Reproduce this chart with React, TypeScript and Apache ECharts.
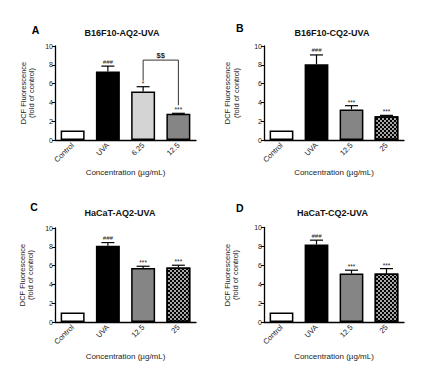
import React, { useEffect, useRef } from 'react';
import * as echarts from 'echarts';

const FONT = '"Liberation Sans", Arial, Helvetica, sans-serif';

const titles = ['B16F10-AQ2-UVA', 'B16F10-CQ2-UVA', 'HaCaT-AQ2-UVA', 'HaCaT-CQ2-UVA'];
const panelLetters = ['A', 'B', 'C', 'D'];
const yAxisName = 'DCF Fluorescence\n(fold of control)';
const xAxisName = 'Concentration (µg/mL)';

const categoriesA = ['Control', 'UVA', '6.25', '12.5'];
const categoriesB = ['Control', 'UVA', '12.5', '25'];
const categoriesC = ['Control', 'UVA', '12.5', '25'];
const categoriesD = ['Control', 'UVA', '12.5', '25'];

const valuesA = [1, 7.3, 5.15, 2.8];
const errorsA = [0, 0.56, 0.52, 0.04];
const marksA = ['', '###', '*', '***'];

const valuesB = [1, 8.05, 3.25, 2.52];
const errorsB = [0, 1.0, 0.4, 0.1];
const marksB = ['', '###', '***', '***'];

const valuesC = [1, 8.1, 5.75, 5.8];
const errorsC = [0, 0.35, 0.18, 0.24];
const marksC = ['', '###', '***', '***'];

const valuesD = [1, 8.2, 5.12, 5.12];
const errorsD = [0, 0.46, 0.36, 0.53];
const marksD = ['', '###', '***', '***'];

// significance bracket in panel A (value units)
const bracketA = { from: 2, to: 3, top: 8.5, leftEnd: 6.3, rightEnd: 3.7, label: '$$' };

const yMin = 0;
const yMax = 10;
const yInterval = 2;

// ---- layout & styles (not data) ----
const layouts = [
  { grid: { left: 55, top: 46, width: 141, height: 94 }, title: [122, 33], letter: [35.5, 29.7], yName: [27.5, 93], xNameGap: 28 },
  { grid: { left: 264, top: 46, width: 140, height: 94 }, title: [332, 33], letter: [239.7, 28.3], yName: [232, 93], xNameGap: 28 },
  { grid: { left: 55, top: 228, width: 141, height: 94 }, title: [120, 213.3], letter: [34, 206.7], yName: [26.7, 275], xNameGap: 30 },
  { grid: { left: 264, top: 227.5, width: 140, height: 94.5 }, title: [332.5, 212.7], letter: [239.7, 207.5], yName: [231.7, 275], xNameGap: 30 },
];

const checker = {
  symbol: 'rect',
  symbolSize: 1,
  color: '#000',
  dashArrayX: [[1.5, 1.5], [0, 1.5, 1.5, 0]],
  dashArrayY: [1.5, 0],
  rotation: 0,
};

type Fill = { color: string; decal?: any };
const W: Fill = { color: '#ffffff' };
const K: Fill = { color: '#000000' };
const L: Fill = { color: '#d4d4d4' };
const G: Fill = { color: '#858585' };
const CH: Fill = { color: '#a8a8a8', decal: checker };

const panelFills: Fill[][] = [
  [W, K, L, G],
  [W, K, G, CH],
  [W, K, G, CH],
  [W, K, G, CH],
];

const panels = [
  { cats: categoriesA, vals: valuesA, errs: errorsA, marks: marksA },
  { cats: categoriesB, vals: valuesB, errs: errorsB, marks: marksB },
  { cats: categoriesC, vals: valuesC, errs: errorsC, marks: marksC },
  { cats: categoriesD, vals: valuesD, errs: errorsD, marks: marksD },
];

function buildOption() {
  const grid: any[] = [];
  const xAxis: any[] = [];
  const yAxis: any[] = [];
  const series: any[] = [];
  const graphic: any[] = [];

  panels.forEach((p, i) => {
    const lay = layouts[i];
    grid.push({ ...lay.grid, containLabel: false, outerBoundsMode: 'none' });
    xAxis.push({
      type: 'category',
      gridIndex: i,
      data: p.cats,
      boundaryGap: true,
      axisLine: { lineStyle: { color: '#000', width: 1.3 } },
      axisTick: { alignWithLabel: true, length: 3, lineStyle: { color: '#000', width: 1 } },
      axisLabel: { rotate: 45, fontSize: 7.5, margin: 4, color: '#222', fontFamily: FONT, interval: 0 },
      name: xAxisName,
      nameLocation: 'middle',
      nameGap: lay.xNameGap,
      nameMoveOverlap: false,
      nameTextStyle: { fontSize: 8, color: '#222', fontFamily: FONT },
    });
    yAxis.push({
      type: 'value',
      gridIndex: i,
      min: yMin,
      max: yMax,
      interval: yInterval,
      splitLine: { show: false },
      axisLine: { show: true, lineStyle: { color: '#000', width: 1.3 } },
      axisTick: { show: true, length: 3, lineStyle: { color: '#000', width: 1 } },
      axisLabel: { fontSize: 7, margin: 2, color: '#222', fontFamily: FONT },
    });

    series.push({
      type: 'bar',
      xAxisIndex: i,
      yAxisIndex: i,
      barWidth: '68%',
      data: p.vals.map((v, j) => ({
        value: v,
        itemStyle: {
          color: panelFills[i][j].color,
          borderColor: '#000',
          borderWidth: 1.5,
          decal: panelFills[i][j].decal,
        },
      })),
    });

    const marks = p.marks;
    series.push({
      type: 'custom',
      xAxisIndex: i,
      yAxisIndex: i,
      z: 5,
      clip: false,
      data: p.vals.map((v, j) => [j, v, p.errs[j]]),
      renderItem: (params: any, api: any) => {
        const c = api.value(0);
        const v = api.value(1);
        const e = api.value(2);
        const base = api.coord([c, v]);
        const top = api.coord([c, v + e]);
        const children: any[] = [];
        if (e > 0) {
          children.push({
            type: 'line',
            shape: { x1: base[0], y1: base[1], x2: base[0], y2: top[1] },
            style: { stroke: '#000', lineWidth: 1.2 },
          });
          children.push({
            type: 'line',
            shape: { x1: base[0] - 6.5, y1: top[1], x2: base[0] + 6.5, y2: top[1] },
            style: { stroke: '#000', lineWidth: 1.2 },
          });
        }
        const m = marks[params.dataIndex];
        if (m) {
          const isStar = m.indexOf('*') >= 0;
          children.push({
            type: 'text',
            style: {
              text: m,
              x: base[0],
              y: top[1] - (isStar ? 0 : 1.5),
              align: 'center',
              verticalAlign: 'bottom',
              fontSize: isStar ? 6.5 : 6,
              fontStyle: isStar ? 'normal' : 'italic',
              fontFamily: FONT,
              fill: '#222',
            },
          });
        }
        return { type: 'group', children };
      },
    });

    graphic.push({
      type: 'text',
      x: lay.title[0],
      y: lay.title[1],
      style: {
        text: titles[i],
        align: 'center',
        verticalAlign: 'middle',
        fontSize: 9,
        fontWeight: 'bold',
        fontFamily: FONT,
        fill: '#111',
      },
    });
    graphic.push({
      type: 'text',
      x: lay.letter[0],
      y: lay.letter[1],
      style: {
        text: panelLetters[i],
        align: 'center',
        verticalAlign: 'middle',
        fontSize: 10.5,
        fontWeight: 'bold',
        fontFamily: FONT,
        fill: '#000',
      },
    });
    graphic.push({
      type: 'text',
      x: lay.yName[0],
      y: lay.yName[1],
      rotation: Math.PI / 2,
      style: {
        text: yAxisName,
        align: 'center',
        verticalAlign: 'middle',
        fontSize: 7.5,
        lineHeight: 8.5,
        fontFamily: FONT,
        fill: '#222',
      },
    });
  });

  // bracket in panel A
  series.push({
    type: 'custom',
    xAxisIndex: 0,
    yAxisIndex: 0,
    z: 6,
    clip: false,
    data: [[bracketA.from, bracketA.to, bracketA.top, bracketA.leftEnd, bracketA.rightEnd]],
    renderItem: (_params: any, api: any) => {
      const a = api.coord([api.value(0), api.value(2)]);
      const b = api.coord([api.value(1), api.value(2)]);
      const aEnd = api.coord([api.value(0), api.value(3)]);
      const bEnd = api.coord([api.value(1), api.value(4)]);
      return {
        type: 'group',
        children: [
          {
            type: 'polyline',
            shape: { points: [[a[0], aEnd[1]], [a[0], a[1]], [b[0], b[1]], [b[0], bEnd[1]]] },
            style: { stroke: '#333', lineWidth: 1, fill: 'none' },
          },
          {
            type: 'text',
            style: {
              text: bracketA.label,
              x: (a[0] + b[0]) / 2,
              y: a[1] - 1,
              align: 'center',
              verticalAlign: 'bottom',
              fontSize: 7.5,
              fontWeight: 'bold',
              fontFamily: FONT,
              fill: '#222',
            },
          },
        ],
      };
    },
  });

  return {
    animation: false,
    backgroundColor: '#ffffff',
    textStyle: { fontFamily: FONT },
    grid,
    xAxis,
    yAxis,
    series,
    graphic,
  };
}

export default function App() {
  const ref = useRef<HTMLDivElement>(null);
  useEffect(() => {
    if (!ref.current) return;
    const chart = echarts.init(ref.current, undefined, { renderer: 'svg' });
    chart.setOption(buildOption() as any);
    return () => chart.dispose();
  }, []);
  return (
    <div
      ref={ref}
      style={{ position: 'fixed', left: 0, top: 0, width: 430, height: 384, background: '#fff' }}
    />
  );
}
